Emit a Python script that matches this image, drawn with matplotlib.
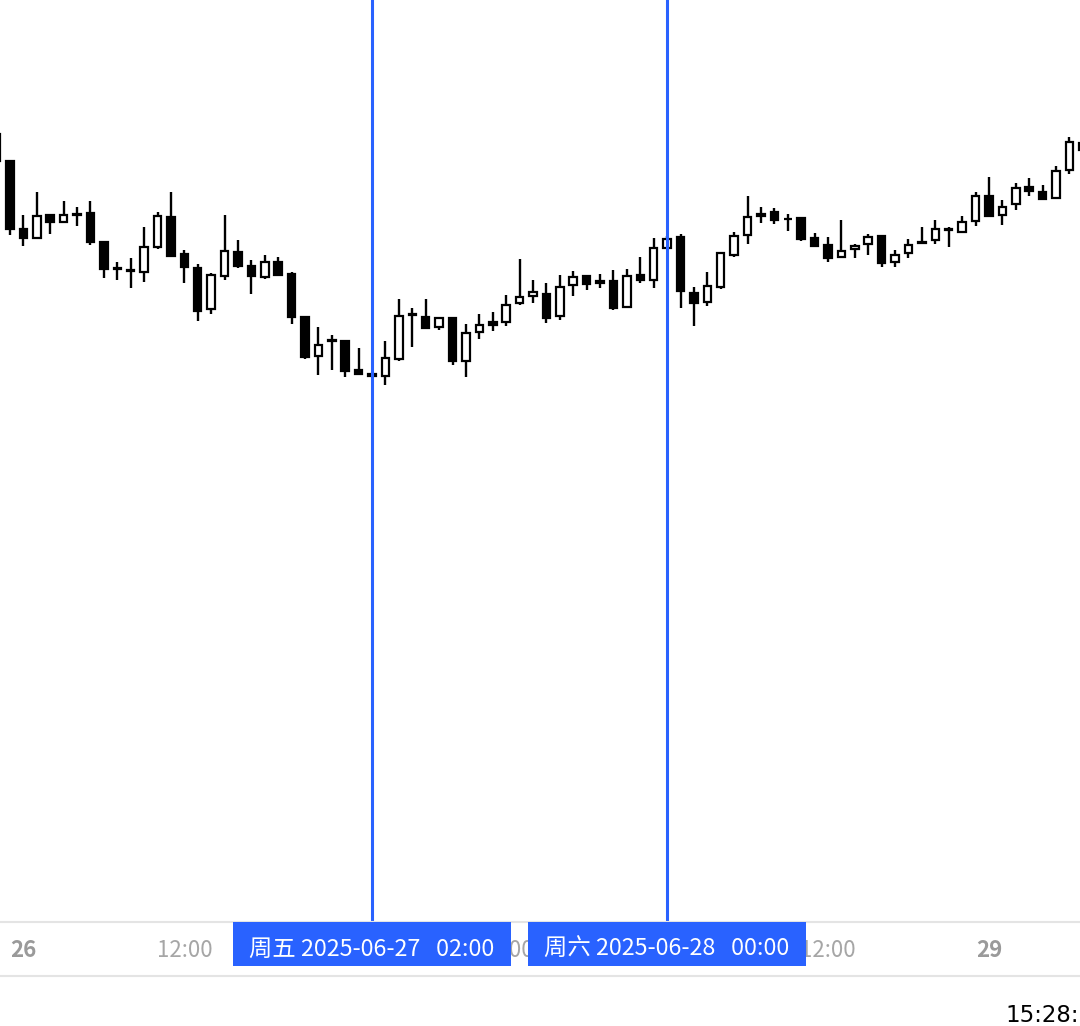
import numpy as np
import pandas as pd
import matplotlib
matplotlib.use("Agg")
import matplotlib.pyplot as plt
from matplotlib.patches import Rectangle

# hourly candles, 2025-06-25 22:00 -> 2025-06-29 07:00
times = pd.date_range("2025-06-25 22:00", periods=82, freq="h")

opens = [108660, 108390, 107710, 107620, 107850, 107780, 107865, 107870, 107580, 107320,
         107300, 107280, 107530, 107830, 107460, 107320, 106910, 107240, 107480, 107340,
         107230, 107380, 107260, 106830, 106440, 106600, 106590, 106300, 106260, 106240,
         106410, 106860, 106830, 106730, 106820, 106390, 106680, 106780, 106780, 106970,
         107040, 107060, 106840, 107150, 107240, 107190, 107190, 106930, 107250, 107200,
         107520, 107630, 107070, 106980, 107130, 107450, 107650, 107860, 107880, 107815,
         107820, 107620, 107550, 107430, 107510, 107560, 107640, 107380, 107470, 107580,
         107600, 107710, 107680, 107790, 108040, 107850, 107960, 108130, 108080, 108020,
         108300, 108500]
highs = [108700, 108400, 107850, 108080, 107860, 107990, 107930, 107990, 107590, 107380,
         107420, 107730, 107880, 108080, 107500, 107360, 107270, 107850, 107600, 107400,
         107450, 107430, 107280, 106840, 106730, 106650, 106600, 106520, 106260, 106590,
         107010, 106920, 107010, 106830, 106820, 106760, 106860, 106880, 107050, 107410,
         107200, 107170, 107250, 107290, 107240, 107260, 107300, 107310, 107430, 107620,
         107640, 107660, 107130, 107280, 107480, 107680, 108040, 107930, 107920, 107860,
         107830, 107670, 107630, 107800, 107560, 107660, 107640, 107500, 107610, 107730,
         107800, 107730, 107840, 108080, 108230, 108000, 108170, 108220, 108150, 108340,
         108630, 108600]
lows = [108350, 107650, 107540, 107620, 107660, 107780, 107740, 107550, 107220, 107200,
        107120, 107180, 107510, 107430, 107170, 106790, 106860, 107200, 107320, 107060,
        107210, 107250, 106760, 106410, 106250, 106300, 106230, 106250, 106230, 106150,
        106390, 106530, 106710, 106700, 106350, 106230, 106610, 106690, 106740, 106950,
        106970, 106770, 106800, 107040, 107100, 107120, 106900, 106930, 107170, 107120,
        107510, 106920, 106740, 106940, 107110, 107430, 107560, 107770, 107760, 107690,
        107590, 107540, 107380, 107430, 107420, 107450, 107330, 107330, 107420, 107575,
        107560, 107530, 107670, 107740, 107840, 107750, 107900, 108040, 108010, 108020,
        108260, 108480]
closes = [108390, 107710, 107620, 107840, 107780, 107850, 107855, 107580, 107310, 107315,
          107295, 107530, 107840, 107440, 107330, 106890, 107250, 107490, 107340, 107240,
          107380, 107250, 106830, 106430, 106550, 106595, 106290, 106260, 106240, 106420,
          106840, 106855, 106720, 106820, 106390, 106670, 106750, 106750, 106950, 107030,
          107080, 106820, 107130, 107230, 107160, 107170, 106920, 107240, 107200, 107520,
          107610, 107090, 106970, 107140, 107470, 107640, 107830, 107840, 107800, 107810,
          107610, 107540, 107420, 107490, 107540, 107630, 107370, 107450, 107550, 107575,
          107710, 107705, 107780, 108040, 107840, 107930, 108120, 108090, 108010, 108290,
          108580, 108570]

# vertical markers with their date labels
marker_times = [pd.Timestamp("2025-06-27 02:00"), pd.Timestamp("2025-06-28 00:00")]
weekdays = ["周一", "周二", "周三", "周四", "周五", "周六", "周日"]

# time scale labels
tick_times = pd.date_range("2025-06-26 00:00", "2025-06-29 00:00", freq="12h")

blue = "#2962ff"
font = ["Noto Sans CJK SC", "DejaVu Sans"]

t0 = pd.Timestamp("2025-06-26 00:00")
def hours(t):
    return (t - t0) / pd.Timedelta(hours=1)

x = np.array([hours(t) for t in times])
o = np.array(opens)
h = np.array(highs)
l = np.array(lows)
c = np.array(closes)

fig = plt.figure(figsize=(10.8, 10.26), dpi=100)
ax = fig.add_axes([0, 104 / 1026, 1, 922 / 1026])
ax2 = fig.add_axes([0, 50 / 1026, 1, 54 / 1026], sharex=ax)

ax.set_xlim(-1.745, 78.79)
ax.set_ylim(100780, 110000)
ax.axis("off")

body_w = 0.56
for xi, oi, hi, li, ci in zip(x, o, h, l, c):
    ax.vlines(xi, li, hi, color="black", lw=1.7, zorder=2)
    up = ci >= oi
    bottom = min(oi, ci)
    height = max(abs(ci - oi), 1)
    ax.add_patch(Rectangle((xi - body_w / 2, bottom), body_w, height,
                           facecolor="white" if up else "black",
                           edgecolor="black", lw=1.6, zorder=3))

for t in marker_times:
    ax.axvline(hours(t), color=blue, lw=2.2, zorder=5)

# time axis band
ax2.set_ylim(0, 1)
ax2.set_xticks([])
ax2.set_yticks([])
for side in ["left", "right"]:
    ax2.spines[side].set_visible(False)
for side in ["top", "bottom"]:
    ax2.spines[side].set_color("#e4e4e4")
    ax2.spines[side].set_linewidth(1.5)

tr = ax2.get_xaxis_transform()
marker_x = [hours(t) for t in marker_times]
for t in tick_times:
    xt = hours(t)
    # labels fully under a marker box are not shown
    if min(abs(xt - m) for m in marker_x) < 8:
        continue
    if t.hour == 0:
        ax2.text(xt, 0.47, str(t.day), transform=tr, ha="center", va="center",
                 fontsize=16, fontweight="bold", color="#9a9a9a", family=font)
    else:
        ax2.text(xt, 0.47, t.strftime("%H:%M"), transform=tr, ha="center",
                 va="center", fontsize=16, color="#a6a6a6", family=font)

half_w = 10.35
for t in marker_times:
    xc = hours(t)
    ax2.add_patch(Rectangle((xc - half_w, 0.185), 2 * half_w, 0.815, transform=tr,
                            facecolor=blue, edgecolor="none", zorder=5, clip_on=False))
    label = f"{weekdays[t.weekday()]} {t:%Y-%m-%d}   {t:%H:%M}"
    ax2.text(xc, 0.5, label, transform=tr, ha="center", va="center",
             fontsize=16.8, color="white", family=font, zorder=6)

fig.text(1005 / 1080, 1 - 1015 / 1026, "15:28:", ha="left", va="center",
         fontsize=16.5, color="black", family="DejaVu Sans")

fig.savefig("out.png", dpi=100)
